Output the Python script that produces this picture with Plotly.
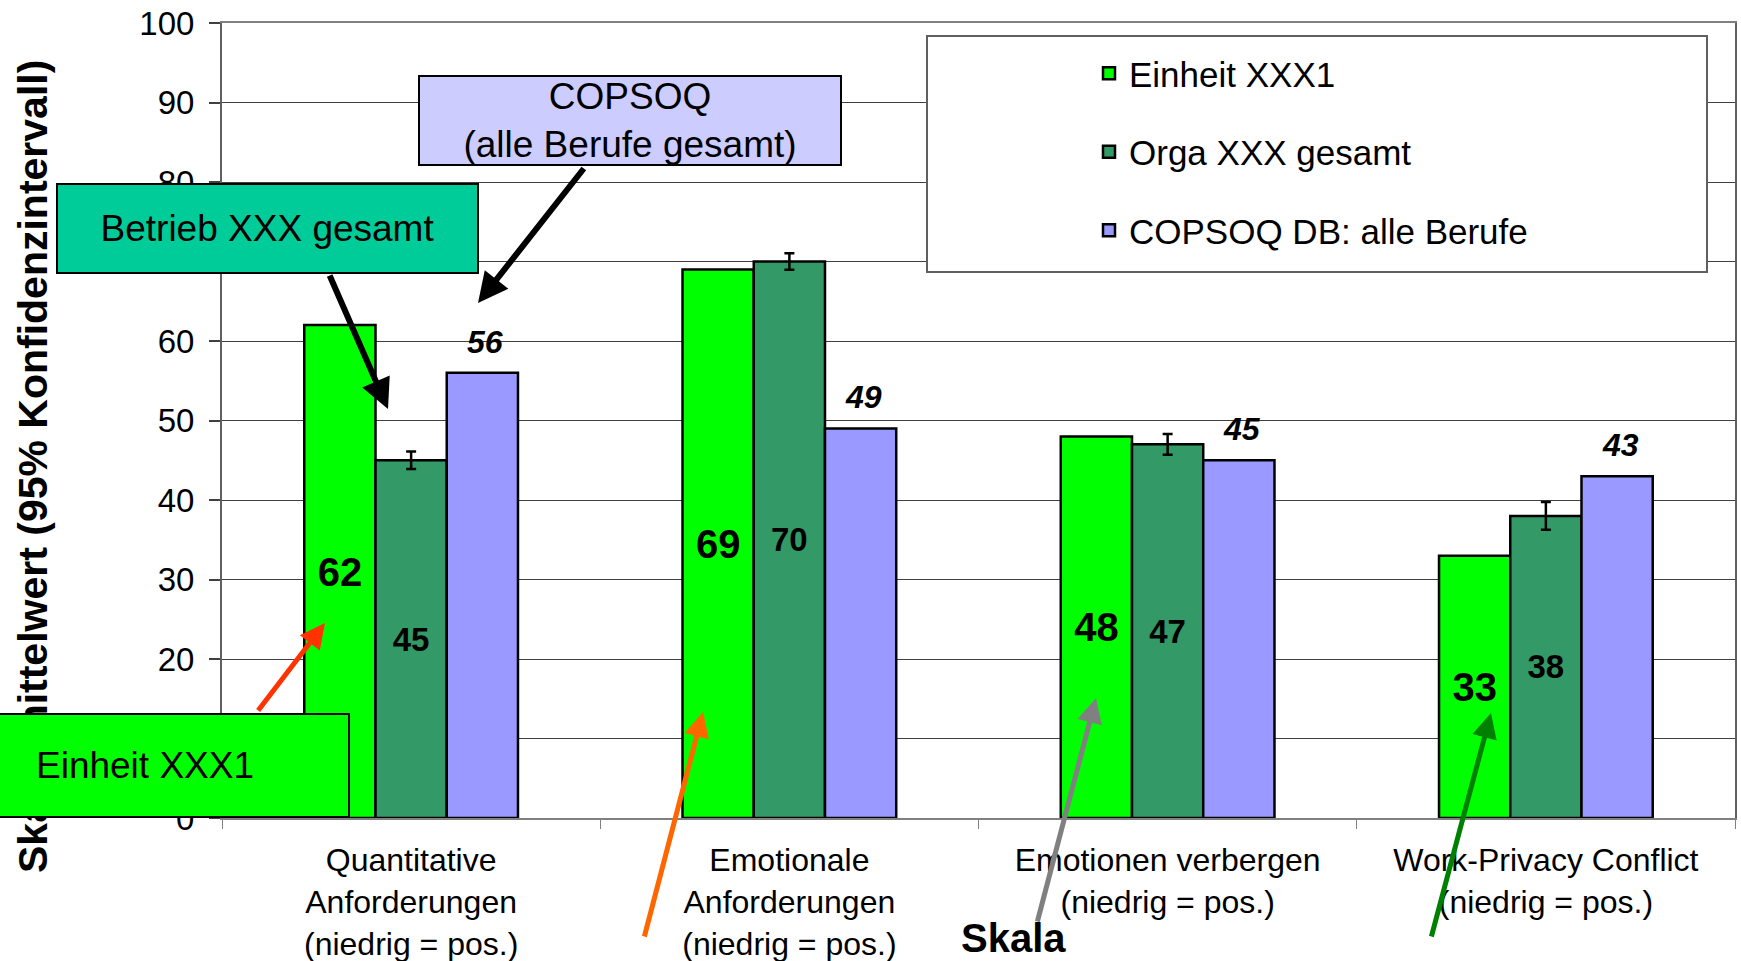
import plotly.graph_objects as go

# ---- data -------------------------------------------------------------
categories = [
    "Quantitative<br>Anforderungen<br>(niedrig = pos.)",
    "Emotionale<br>Anforderungen<br>(niedrig = pos.)",
    "Emotionen verbergen<br>(niedrig = pos.)",
    "Work-Privacy Conflict<br>(niedrig = pos.)",
]
einheit_values = [62, 69, 48, 33]
orga_values = [45, 70, 47, 38]
orga_ci = [1.1, 1.05, 1.3, 1.75]
copsoq_values = [56, 49, 45, 43]

series_names = ["Einheit XXX1", "Orga XXX gesamt", "COPSOQ DB: alle Berufe"]
series_colors = ["#00FF00", "#339966", "#9999FF"]

y_title = "Skalenmittelwert (95% Konfidenzintervall)"
x_title = "Skala"

# ---- page geometry (pixels) --------------------------------------------
W_PX, H_PX = 1741, 961
L, R, T, B = 222, 1735, 23, 818
PW, PH = R - L, B - T
BARGAP = 0.435
FONT = "Liberation Sans, Arial, sans-serif"


def px_x(x):
    return (x - L) / PW


def px_y(y):
    return (B - y) / PH


fig = go.Figure()

fig.add_trace(go.Bar(
    x=categories, y=einheit_values, name=series_names[0], legendgroup="a",
    marker=dict(color=series_colors[0], line=dict(color="black", width=2.5)),
    texttemplate="<b>%{y}</b>", textposition="inside", insidetextanchor="middle",
    textfont=dict(size=40, color="black", family=FONT), textangle=0,
))
fig.add_trace(go.Bar(
    x=categories, y=orga_values, name=series_names[1], legendgroup="b",
    marker=dict(color=series_colors[1], line=dict(color="black", width=2.5)),
    error_y=dict(type="data", array=orga_ci, color="black", thickness=2.5, width=5),
    texttemplate="<b>%{y}</b>", textposition="inside", insidetextanchor="middle",
    textfont=dict(size=33, color="black", family=FONT), textangle=0,
))
fig.add_trace(go.Bar(
    x=categories, y=copsoq_values, name=series_names[2], legendgroup="c",
    marker=dict(color=series_colors[2], line=dict(color="black", width=2.5)),
))

annotations = []

# rotated y-axis title
annotations.append(dict(
    text=f"<b>{y_title}</b>", x=px_x(33), y=px_y(467), xref="paper", yref="paper",
    textangle=-90, showarrow=False, font=dict(size=41, color="black", family=FONT),
    xanchor="center", yanchor="middle",
))

# italic value labels above the reference bars
bar_w = (1 - BARGAP) / 3
for i, v in enumerate(copsoq_values):
    annotations.append(dict(
        text=f"<b><i>{v}</i></b>", x=i + bar_w, y=v, xref="x", yref="y",
        yanchor="bottom", yshift=11, xshift=3, showarrow=False,
        font=dict(size=32, color="black", family=FONT),
    ))

# axis caption under the categories
annotations.append(dict(
    text=f"<b>{x_title}</b>", x=px_x(1013), y=px_y(938), xref="paper", yref="paper",
    showarrow=False, font=dict(size=40, color="black", family=FONT),
    xanchor="center", yanchor="middle",
))

# labelled callout boxes
boxes = [
    ("COPSOQ<br>(alle Berufe gesamt)", 630, 121, 424, 91, "#CCCCFF"),
    ("Betrieb XXX gesamt", 267, 228, 423, 91, "#00CC99"),
    ("Einheit XXX1", 145, 765, 410, 105, "#00FF00"),
]
for text, cx, cy, bw, bh, col in boxes:
    annotations.append(dict(
        text=text, x=px_x(cx), y=px_y(cy), xref="paper", yref="paper",
        xanchor="center", yanchor="middle", showarrow=False,
        width=bw - 4, height=bh - 4, borderpad=0, borderwidth=2,
        bordercolor="black", bgcolor=col,
        font=dict(size=37, color="black", family=FONT),
    ))

# pointer arrows: (tail x, tail y, head x, head y, colour, width)
arrows = [
    (585, 167, 478, 303, "black", 6),
    (329, 274, 388, 409, "black", 6),
    (257, 712, 325, 623, "#FF3300", 5),
    (644, 938, 703, 712, "#FF6600", 5),
    (1037, 923, 1096, 698, "#808080", 5),
    (1431, 938, 1491, 713, "#008000", 5),
]
for tx, ty, hx, hy, col, w in arrows:
    annotations.append(dict(
        text="", x=px_x(hx), y=px_y(hy), xref="paper", yref="paper",
        ax=tx - hx, ay=ty - hy, showarrow=True, arrowhead=2, arrowsize=1,
        arrowwidth=w, arrowcolor=col, standoff=0,
    ))

# white frame behind the legend entries
shapes = [dict(
    type="rect", xref="paper", yref="paper",
    x0=px_x(927), x1=px_x(1707), y0=px_y(36), y1=px_y(272),
    fillcolor="white", line=dict(color="#606060", width=2), layer="above",
)]

fig.update_layout(
    width=W_PX, height=H_PX,
    margin=dict(l=L, r=W_PX - R, t=T, b=H_PX - B, autoexpand=False),
    paper_bgcolor="white", plot_bgcolor="white",
    barmode="group", bargap=BARGAP, bargroupgap=0,
    font=dict(family=FONT, color="black"),
    showlegend=True,
    legend=dict(
        x=px_x(1089), xanchor="left", y=px_y(44), yanchor="top",
        bgcolor="rgba(0,0,0,0)", borderwidth=0, tracegroupgap=30,
        font=dict(size=35, color="black", family=FONT),
    ),
    annotations=annotations,
    shapes=shapes,
)

fig.update_yaxes(
    range=[0, 100], dtick=10, ticks="outside", ticklen=11, tickcolor="#404040",
    tickwidth=1.5, showgrid=True, gridcolor="#404040", gridwidth=1,
    showline=True, linecolor="#606060", linewidth=2, mirror=True,
    zeroline=False, tickfont=dict(size=33, family=FONT, color="black"),
    ticklabelstandoff=8,
)
fig.update_xaxes(
    ticks="outside", tickson="boundaries", ticklen=9, tickcolor="#808080",
    showline=True, linecolor="#808080", linewidth=2, mirror=True,
    tickfont=dict(size=32, family=FONT, color="black"),
    ticklabelstandoff=13,
)

fig.write_html("out.html")
